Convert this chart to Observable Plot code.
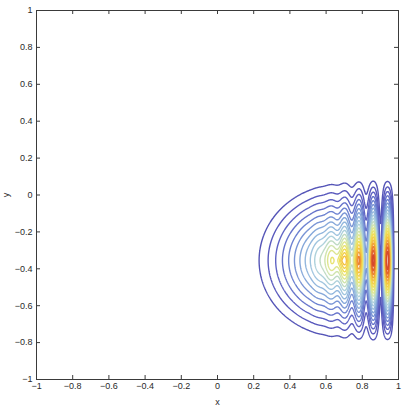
<!DOCTYPE html>
<html><head><meta charset="utf-8">
<script src="https://cdn.jsdelivr.net/npm/d3@7"></script>
<script src="https://cdn.jsdelivr.net/npm/@observablehq/plot@0.6"></script>
<style>body{margin:0;background:#fff;overflow:hidden}</style>
</head><body><div id="chart"></div>
<script>
// tick labels
const xTicks = [-1, -0.8, -0.6, -0.4, -0.2, 0, 0.2, 0.4, 0.6, 0.8, 1];
const yTicks = [-1, -0.8, -0.6, -0.4, -0.2, 0, 0.2, 0.4, 0.6, 0.8, 1];
// field: smooth D-shaped envelope + standing-wave fringes at the wall
const envelopeCenter = [0.685, -0.355];       // x, y of central maximum
const envelopeRadii = [0.54, 1.2, 0.49];       // left x-radius, right x-radius, y-radius
const envelopePower = [1.5];
const wallX = [0.98];                          // fringes vanish here
const fringePeriod = [0.08];                   // lobes at 0.78, 0.86, 0.94
const fringeReach = [0.2];
const levelCount = [22];
const jetColors = ["#5050b0", "#5c5cc0", "#6c80d0", "#8aaedc", "#aacfe0", "#d4e6a8", "#f0e25a", "#f4c040", "#e8702e", "#c8302a"];

function rawField(x, y) {
  const [xc, yc] = envelopeCenter;
  const [rl, rr, ry] = envelopeRadii;
  const xw = wallX[0];
  if (x >= xw) return 0;
  const dx = (x - xc) / (x < xc ? rl : rr);
  const dy = (y - yc) / ry;
  const r = Math.sqrt(dx * dx + dy * dy);
  if (r >= 1) return 0;
  const E = Math.pow(1 - r, envelopePower[0]);
  const V = Math.exp(-Math.pow((xw - x) / fringeReach[0], 2));
  const F = 1 - V * Math.cos(2 * Math.PI * (xw - x) / fringePeriod[0]);
  return E * F;
}
// normalise so the highest lobe is 1
let fmax = 0;
for (let i = 0; i <= 400; i++) for (let j = 0; j <= 400; j++) {
  const v = rawField(-1 + i / 200, -1 + j / 200);
  if (v > fmax) fmax = v;
}
const field = (x, y) => rawField(x, y) / fmax;
const thresholds = d3.range(1, levelCount[0]).map(i => i / levelCount[0]);
const fmt = d => String(d).replace("-", "\u2212");

const W = 406, H = 410, mt = 10, mb = 31, ml = 36, mr = 8;
const innerW = W - ml - mr, innerH = H - mt - mb;
const tk = 4;

const chart = Plot.plot({
  width: W, height: H,
  marginTop: mt, marginBottom: mb, marginLeft: ml, marginRight: mr,
  x: {domain: [-1, 1]},
  y: {domain: [-1, 1]},
  color: {type: "linear", domain: [0, 1], interpolate: d3.piecewise(d3.interpolateRgb, jetColors)},
  style: {fontFamily: "'Liberation Sans', Arial, sans-serif", fontSize: "9px", color: "#2a2a2a", background: "#fff"},
  marks: [
    Plot.contour({value: field, x1: -1, x2: 1, y1: -1, y2: 1, thresholds, stroke: "value", fill: "none", strokeWidth: 1.4, pixelSize: 0.5}),
    Plot.frame({stroke: "#3a3a3a", strokeWidth: 1}),
    Plot.tickX(xTicks, {x: d => d, insetTop: innerH - tk, stroke: "#3a3a3a"}),
    Plot.tickX(xTicks, {x: d => d, insetBottom: innerH - tk, stroke: "#3a3a3a"}),
    Plot.tickY(yTicks, {y: d => d, insetRight: innerW - tk, stroke: "#3a3a3a"}),
    Plot.tickY(yTicks, {y: d => d, insetLeft: innerW - tk, stroke: "#3a3a3a"}),
    Plot.axisX({ticks: xTicks, tickFormat: fmt, tickSize: 0, tickPadding: 3, label: "x", labelAnchor: "center", labelArrow: "none", labelOffset: 25}),
    Plot.axisY({ticks: yTicks, tickFormat: fmt, tickSize: 0, tickPadding: 4, label: "y", labelAnchor: "center", labelArrow: "none", labelOffset: 34})
  ]
});
document.getElementById("chart").appendChild(chart);
</script>
</body></html>
